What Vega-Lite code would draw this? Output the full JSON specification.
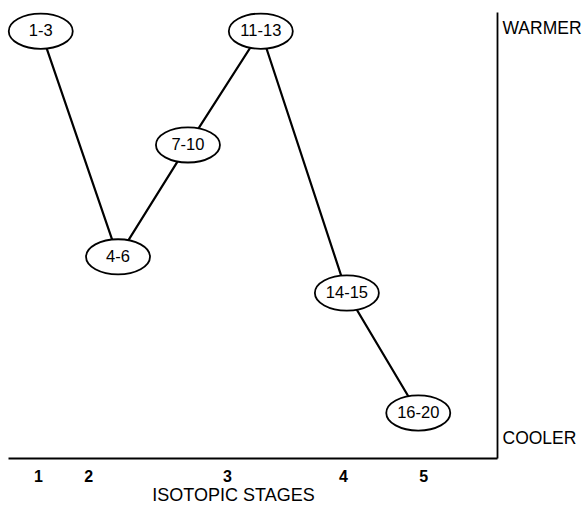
{
  "$schema": "https://vega.github.io/schema/vega-lite/v6.json",
  "width": 489,
  "height": 446,
  "autosize": "none",
  "padding": {"left": 8, "top": 12, "right": 89, "bottom": 51},
  "background": "white",
  "config": {"view": {"stroke": null}, "font": "Liberation Sans"},
  "data": {"values": [
    {"stages": "1-3", "order": 1, "pos": 6.7, "temp": 95.7},
    {"stages": "4-6", "order": 2, "pos": 22.5, "temp": 45.1},
    {"stages": "7-10", "order": 3, "pos": 36.8, "temp": 70.2},
    {"stages": "11-13", "order": 4, "pos": 51.7, "temp": 95.7},
    {"stages": "14-15", "order": 5, "pos": 69.3, "temp": 37.0},
    {"stages": "16-20", "order": 6, "pos": 83.9, "temp": 10.1}
  ]},
  "encoding": {
    "x": {
      "field": "pos", "type": "quantitative",
      "scale": {"domain": [0, 100], "nice": false, "zero": false},
      "axis": {
        "orient": "bottom", "grid": false, "ticks": false,
        "domain": true, "domainColor": "black", "domainWidth": 1.8,
        "values": [6.1, 16.4, 44.8, 68.5, 84.9],
        "labelExpr": "datum.value < 10 ? '1' : datum.value < 30 ? '2' : datum.value < 60 ? '3' : datum.value < 80 ? '4' : '5'",
        "labelFontSize": 16, "labelColor": "black", "labelPadding": 10,
        "labelFont": "Liberation Sans", "labelFontWeight": "bold",
        "title": "ISOTOPIC STAGES", "titleFontSize": 18, "titleFontWeight": "normal",
        "titleColor": "black", "titleFont": "Liberation Sans",
        "titleX": 225, "titleY": 37, "titleAlign": "center", "titleBaseline": "middle"
      }
    },
    "y": {
      "field": "temp", "type": "quantitative",
      "scale": {"domain": [0, 100], "nice": false, "zero": false},
      "axis": {
        "orient": "right", "grid": false, "ticks": false,
        "domain": true, "domainColor": "black", "domainWidth": 1.8,
        "values": [96.4, 4.3],
        "labelExpr": "datum.value > 50 ? 'WARMER' : 'COOLER'",
        "labelFontSize": 17.5, "labelColor": "black", "labelPadding": 5,
        "labelAlign": "left", "labelBaseline": "middle",
        "labelFont": "Liberation Sans",
        "title": null
      }
    }
  },
  "layer": [
    {
      "mark": {"type": "line", "color": "black", "strokeWidth": 2.2},
      "encoding": {"order": {"field": "order", "type": "quantitative"}}
    },
    {
      "mark": {
        "type": "point", "filled": false, "fill": "white", "fillOpacity": 1,
        "stroke": "black", "strokeWidth": 1.8, "opacity": 1,
        "shape": "M-1,0 A1,0.55 0 1,1 1,0 A1,0.55 0 1,1 -1,0 Z",
        "size": 4096
      }
    },
    {
      "mark": {"type": "text", "fontSize": 16.5, "color": "black", "align": "center", "baseline": "middle", "font": "Liberation Sans"},
      "encoding": {"text": {"field": "stages", "type": "nominal"}}
    }
  ]
}
